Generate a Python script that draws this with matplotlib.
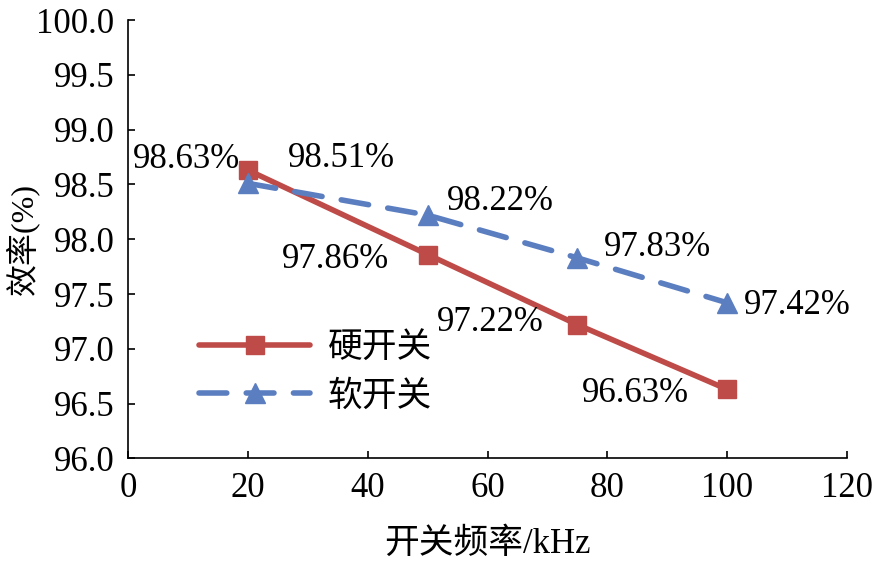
import matplotlib
matplotlib.use("Agg")
import matplotlib.pyplot as plt

freq = [20, 50, 75, 100]
hard_eff = [98.63, 97.86, 97.22, 96.63]
soft_eff = [98.51, 98.22, 97.83, 97.42]
hard_name = "硬开关"
soft_name = "软开关"

plt.rcParams['font.family'] = ['Liberation Serif', 'Noto Sans CJK SC']
plt.rcParams['font.size'] = 25

RED = '#BE4B48'
BLUE = '#5B7EC0'

fig = plt.figure(figsize=(8.74, 5.61), dpi=100)
ax = fig.add_axes([0.147, 0.183, 0.822, 0.781])

ax.plot(freq, hard_eff, color=RED, lw=4, marker='s', markersize=13,
        label=hard_name, solid_capstyle='round')
ax.plot(freq, soft_eff, color=BLUE, lw=4, marker='^', markersize=14,
        dashes=(5, 3.5), dash_capstyle='round', label=soft_name)

# label offsets in pixels (dx, dy)
hard_off = [(-62, 11), (-92, -5), (-87, 2), (-92, -4)]
soft_off = [(93, 25), (73, 14), (80, 10), (70, -3)]
for x, y, (dx, dy) in zip(freq, hard_eff, hard_off):
    ax.annotate(f"{y:.2f}%", (x, y), xytext=(dx, dy), textcoords='offset pixels',
                ha='center', va='center')
for x, y, (dx, dy) in zip(freq, soft_eff, soft_off):
    ax.annotate(f"{y:.2f}%", (x, y), xytext=(dx, dy), textcoords='offset pixels',
                ha='center', va='center')

ax.set_xlim(0, 120)
ax.set_ylim(96.0, 100.0)
ax.set_xticks(range(0, 121, 20))
ax.set_yticks([96.0 + 0.5 * i for i in range(9)])
ax.set_yticklabels([f"{96.0 + 0.5 * i:.1f}" for i in range(9)])
ax.tick_params(direction='in', length=5, width=1.2)
ax.tick_params(axis='x', pad=10)
ax.tick_params(axis='y', pad=10)
ax.spines['top'].set_visible(False)
ax.spines['right'].set_visible(False)
for s in ('left', 'bottom'):
    ax.spines[s].set_linewidth(1.2)

ax.set_xlabel("开关频率/kHz", labelpad=16)
ax.set_ylabel("效率(%)", fontsize=23)
ax.yaxis.set_label_coords(-0.124, 0.5)

ax.legend(loc='upper left', bbox_to_anchor=(0.055, 0.36), frameon=False,
          handlelength=3.2, labelspacing=0.45, handletextpad=0.5)

fig.savefig("out.png", dpi=100)
